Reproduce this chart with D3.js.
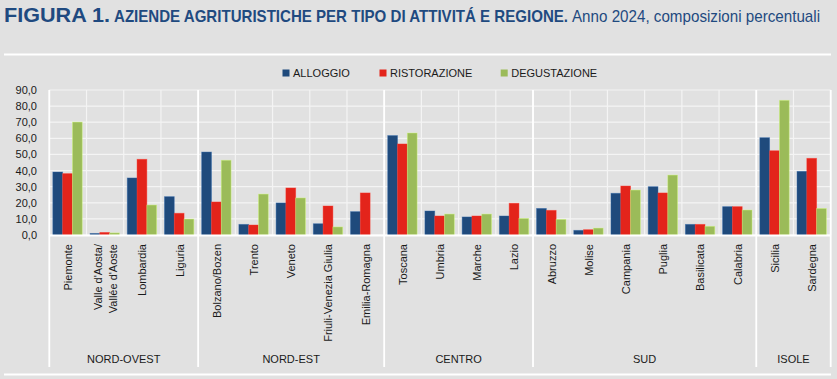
<!DOCTYPE html>
<html>
<head>
<meta charset="utf-8">
<script src="https://cdn.jsdelivr.net/npm/d3@7"></script>
<style>
  html, body { margin: 0; padding: 0; background: #e1e1e1; }
  svg { display: block; }
  text { font-family: "Liberation Sans", Arial, sans-serif; }
</style>
</head>
<body>
<svg id="chart" width="837" height="379"></svg>
<script>
// ---- data ----
const regions = ["Piemonte", "Valle d'Aosta/\nVallée d'Aoste", "Lombardia", "Liguria",
  "Bolzano/Bozen", "Trento", "Veneto", "Friuli-Venezia Giulia", "Emilia-Romagna",
  "Toscana", "Umbria", "Marche", "Lazio",
  "Abruzzo", "Molise", "Campania", "Puglia", "Basilicata", "Calabria",
  "Sicilia", "Sardegna"];
const macroAreas = ["NORD-OVEST", "NORD-EST", "CENTRO", "SUD", "ISOLE"];
const macroCounts = [4, 5, 4, 6, 2];
const seriesNames = ["ALLOGGIO", "RISTORAZIONE", "DEGUSTAZIONE"];
const alloggio =     [39.1, 1.0, 35.4, 23.8, 51.5, 6.6, 19.9, 7.0, 14.5, 61.7, 14.9, 11.2, 11.8, 16.5, 2.9, 25.9, 30.0, 6.6, 17.6, 60.4, 39.5];
const ristorazione = [38.1, 1.6, 47.0, 13.5, 20.5, 6.2, 29.2, 18.0, 26.1, 56.5, 11.8, 11.8, 19.7, 15.3, 3.3, 30.4, 26.1, 6.6, 17.6, 52.3, 47.6];
const degustazione = [70.1, 1.3, 18.6, 9.9, 46.4, 25.4, 23.0, 5.0, 0.0, 63.3, 13.0, 13.0, 10.3, 9.7, 4.3, 27.9, 37.2, 5.4, 15.5, 83.6, 16.5];
const yTicks = [0, 10, 20, 30, 40, 50, 60, 70, 80, 90];
const colors = ["#1f4a7c", "#e3241b", "#9bbb59"];

// ---- layout ----
const svg = d3.select("#chart");
const pLeft = 49.3, pRight = 830.7, pTop = 90, pBottom = 235;

const x0 = d3.scaleBand().domain(d3.range(regions.length)).range([pLeft, pRight]).padding(0);
const bw = x0.bandwidth();
const x1 = d3.scaleBand().domain(seriesNames).range([bw * 0.095, bw * 0.885]).padding(0);
const y = d3.scaleLinear().domain([0, 90]).range([pBottom, pTop]);
const color = d3.scaleOrdinal().domain(seriesNames).range(colors);
const seriesData = [alloggio, ristorazione, degustazione];

// ---- title ----
svg.append("text").attr("x", 4).attr("y", 22)
  .attr("font-size", 21).attr("font-weight", "bold").attr("fill", "#1f4a80")
  .attr("textLength", 106).attr("lengthAdjust", "spacingAndGlyphs")
  .text("FIGURA 1.");
svg.append("text").attr("x", 114).attr("y", 22)
  .style("font-family", "'Liberation Sans Narrow', 'Arial Narrow', 'Liberation Sans', sans-serif")
  .attr("font-size", 17).attr("font-weight", "bold").attr("fill", "#1f4a80")
  .attr("textLength", 454).attr("lengthAdjust", "spacingAndGlyphs")
  .text("AZIENDE AGRITURISTICHE PER TIPO DI ATTIVITÁ E REGIONE.");
svg.append("text").attr("x", 572).attr("y", 22)
  .style("font-family", "'Liberation Sans Narrow', 'Arial Narrow', 'Liberation Sans', sans-serif")
  .attr("font-size", 17).attr("fill", "#1f4a80")
  .attr("textLength", 248).attr("lengthAdjust", "spacingAndGlyphs")
  .text("Anno 2024, composizioni percentuali");

// frame lines
svg.append("line").attr("x1", 4).attr("x2", 831).attr("y1", 54.5).attr("y2", 54.5)
  .attr("stroke", "#ffffff").attr("stroke-width", 2);
svg.append("line").attr("x1", 4).attr("x2", 831).attr("y1", 374.5).attr("y2", 374.5)
  .attr("stroke", "#ffffff").attr("stroke-width", 2);

// ---- legend ----
const legendX = [282.5, 379.5, 500.7];
const lg = svg.append("g");
seriesNames.forEach((s, i) => {
  lg.append("rect").attr("x", legendX[i]).attr("y", 69.5).attr("width", 7).attr("height", 7)
    .attr("fill", color(s));
  lg.append("text").attr("x", legendX[i] + 10.5).attr("y", 77.3)
    .attr("font-size", 11).attr("fill", "#1a1a1a").text(s);
});

// ---- grid ----
const grid = svg.append("g");
yTicks.forEach(t => {
  grid.append("line").attr("x1", pLeft).attr("x2", pRight)
    .attr("y1", y(t)).attr("y2", y(t))
    .attr("stroke", "#f4f4f4").attr("stroke-width", 1.2);
});
d3.range(regions.length + 1).forEach(i => {
  const xx = i < regions.length ? x0(i) : pRight;
  grid.append("line").attr("x1", xx).attr("x2", xx).attr("y1", pTop).attr("y2", pBottom)
    .attr("stroke", "#f4f4f4").attr("stroke-width", 1.2);
});

// y axis labels
const yAxis = d3.axisLeft(y).tickValues(yTicks).tickSize(0).tickPadding(0)
  .tickFormat(d => d3.format(".1f")(d).replace(".", ","));
const ya = svg.append("g").attr("transform", `translate(37,0)`).call(yAxis);
ya.select(".domain").remove();
ya.selectAll("text").attr("font-size", 11).attr("fill", "#1a1a1a")
  .style("font-family", "'Liberation Sans', Arial, sans-serif");

// ---- bars ----
const groups = svg.append("g").selectAll("g").data(regions).join("g")
  .attr("transform", (d, i) => `translate(${x0(i)},0)`);
groups.selectAll("rect")
  .data((d, i) => seriesNames.map((s, k) => ({ s, v: seriesData[k][i] })))
  .join("rect")
  .attr("x", d => x1(d.s))
  .attr("y", d => y(d.v))
  .attr("width", x1.bandwidth())
  .attr("height", d => y(0) - y(d.v))
  .attr("fill", d => color(d.s))
  .attr("stroke", d => d3.color(color(d.s)).brighter(0.9))
  .attr("stroke-opacity", d => d.v > 0 ? 0.5 : 0)
  .attr("stroke-width", 0.8);

// x axis line
svg.append("line").attr("x1", pLeft).attr("x2", pRight).attr("y1", pBottom + 0.5).attr("y2", pBottom + 0.5)
  .attr("stroke", "#ffffff").attr("stroke-width", 2);

// category labels (rotated)
const labG = svg.append("g");
regions.forEach((r, i) => {
  const cx = x0(i) + bw / 2;
  const lines = r.split("\n");
  const g = labG.append("g").attr("transform", `translate(${cx},244) rotate(-90)`);
  lines.forEach((ln, j) => {
    const off = (j - (lines.length - 1) / 2) * 15;
    g.append("text").attr("x", 0).attr("y", off).attr("dy", "0.36em")
      .attr("text-anchor", "end").attr("font-size", 11).attr("fill", "#1a1a1a").text(ln);
  });
});

// macro-area separators and labels
let acc = 0;
const bounds = [0];
macroCounts.forEach(c => { acc += c; bounds.push(acc); });
bounds.forEach(b => {
  const xx = b < regions.length ? x0(b) : pRight;
  svg.append("line").attr("x1", xx).attr("x2", xx).attr("y1", pTop).attr("y2", 367)
    .attr("stroke", "#ffffff").attr("stroke-width", 1.8);
});
macroAreas.forEach((m, k) => {
  const a = x0(bounds[k]);
  const b = bounds[k + 1] < regions.length ? x0(bounds[k + 1]) : pRight;
  svg.append("text").attr("x", (a + b) / 2).attr("y", 363)
    .attr("text-anchor", "middle").attr("font-size", 11).attr("fill", "#1a1a1a").text(m);
});
</script>
</body>
</html>
